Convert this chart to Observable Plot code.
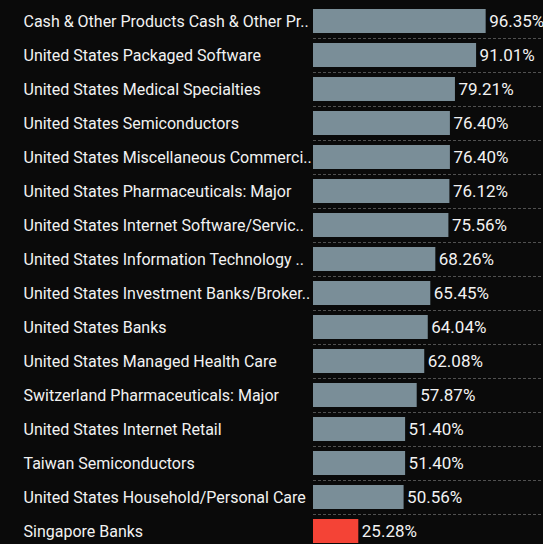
<!DOCTYPE html>
<html>
<head>
<meta charset="utf-8">
<script src="https://cdn.jsdelivr.net/npm/d3@7"></script>
<script src="https://cdn.jsdelivr.net/npm/@observablehq/plot@0.6"></script>
<style>
  html, body { margin: 0; padding: 0; background: #0a0a0a; }
  #chart { width: 543px; height: 544px; overflow: hidden; }
</style>
</head>
<body>
<div id="chart"></div>
<script>
const categories = [
  "Cash & Other Products Cash & Other Pr..",
  "United States Packaged Software",
  "United States Medical Specialties",
  "United States Semiconductors",
  "United States Miscellaneous Commerci..",
  "United States Pharmaceuticals: Major",
  "United States Internet Software/Servic..",
  "United States Information Technology ..",
  "United States Investment Banks/Broker..",
  "United States Banks",
  "United States Managed Health Care",
  "Switzerland Pharmaceuticals: Major",
  "United States Internet Retail",
  "Taiwan Semiconductors",
  "United States Household/Personal Care",
  "Singapore Banks"
];
const values = [96.35, 91.01, 79.21, 76.40, 76.40, 76.12, 75.56, 68.26, 65.45, 64.04, 62.08, 57.87, 51.40, 51.40, 50.56, 25.28];
const highlight = ["Singapore Banks"];
const gridTicks = [0, 50, 100];

const data = categories.map((c, i) => ({category: c, value: values[i], hot: highlight.includes(c)}));

const font = "Roboto, 'Noto Sans', sans-serif";

const chart = Plot.plot({
  width: 543,
  height: 544,
  marginLeft: 313,
  marginRight: 0,
  marginTop: 0,
  marginBottom: 0,
  style: {background: "#0a0a0a", color: "#eeeeee", fontFamily: font, fontSize: "16px"},
  x: {domain: [0, 128.35], range: [313, 543], axis: null},
  y: {domain: categories, range: [3.5, 547.5], paddingInner: 0.3, paddingOuter: 0.15, axis: null},
  marks: [
    Plot.ruleX(gridTicks, {x: d => d, y1: 3.5, y2: 544, stroke: "#505050", strokeDasharray: "3,2", strokeWidth: 1}),
    Plot.ruleY(categories.slice(1), {y: d => d, dy: -17, stroke: "#505050", strokeDasharray: "3,2", strokeWidth: 1}),
    Plot.barX(data, {y: "category", x: "value", fill: d => d.hot ? "#f44336" : "#7a8e98"}),
    Plot.text(data, {y: "category", x: "value", text: d => d.value.toFixed(2) + "%", textAnchor: "start", dx: 3, fill: "#f2f2f2", fontSize: 17}),
    Plot.text(data, {y: "category", frameAnchor: "left", text: "category", textAnchor: "start", dx: -290, fill: "#f2f2f2", fontSize: 16})
  ]
});
document.getElementById("chart").appendChild(chart);
</script>
</body>
</html>
